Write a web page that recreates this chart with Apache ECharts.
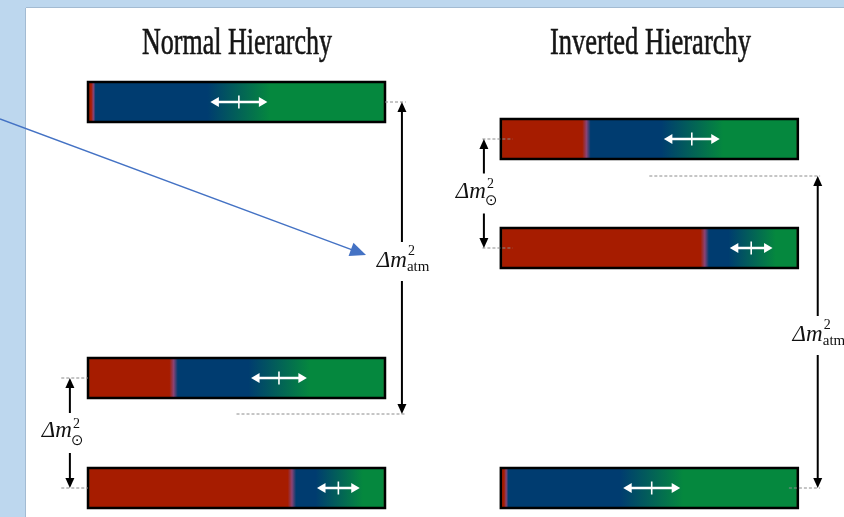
<!DOCTYPE html>
<html>
<head>
<meta charset="utf-8">
<script src="https://cdn.jsdelivr.net/npm/echarts@6/dist/echarts.min.js"></script>
<style>
  html, body { margin: 0; padding: 0; background: #bdd7ee; }
  #chart { width: 844px; height: 517px; }
</style>
</head>
<body>
<div id="chart"></div>
<script>
// ---- data -------------------------------------------------------------
const hierarchies = ['Normal Hierarchy', 'Inverted Hierarchy'];
const massStates = ['ν1', 'ν2', 'ν3'];
// flavour content of each mass state (fraction of the bar)
const electronShare = [0.685, 0.29, 0.022];     // red part
const muTauSplit = [0.843, 0.643, 0.508];        // μ / τ boundary
const splitUncertainty = [0.072, 0.094, 0.096];  // ± range of that boundary
// mass-squared levels (arbitrary units) of ν1, ν2, ν3
const normalLevels = [0.00, 1.10, 3.86];
const invertedLevels = [2.40, 3.49, 0.00];
// level the atmospheric splitting is measured from in each ordering
const atmosphericReference = [0.74, 3.12];

// ---- layout -----------------------------------------------------------
const W = 844, H = 517;
const X_MIN = -88 / 297, X_MAX = (W - 88) / 297;   // bar length = 1 unit
const Y_MIN = -0.29, Y_MAX = 4.88;
const INVERTED_OFFSET = 1.39;
const BAR_THICKNESS = 0.40;

const RED = '#a61c00', BLUE = '#003c70', GREEN = '#05883e';
const SERIF = '"Liberation Serif", "DejaVu Serif", serif';

const levels = [normalLevels, invertedLevels];

const barData = [];
levels.forEach((lv, h) => {
  massStates.forEach((name, s) => {
    barData.push([h * INVERTED_OFFSET, lv[s], h, s]);
  });
});

// splitting brackets: Δm²atm and Δm²☉ for both orderings
const brackets = [
  { x: 1.057, top: normalLevels[2], bottom: atmosphericReference[0], kind: 'atm',
    guides: [[1.0, 1.07], [0.50, 1.07]] },
  { x: -0.061, top: normalLevels[1], bottom: normalLevels[0], kind: 'sol',
    guides: [[-0.09, 0.0], [-0.09, 0.0]] },
  { x: INVERTED_OFFSET - 0.057, top: invertedLevels[1], bottom: invertedLevels[0], kind: 'sol',
    guides: [[INVERTED_OFFSET - 0.062, INVERTED_OFFSET + 0.04], [INVERTED_OFFSET - 0.062, INVERTED_OFFSET + 0.04]] },
  { x: INVERTED_OFFSET + 1.067, top: atmosphericReference[1], bottom: invertedLevels[2], kind: 'atm',
    guides: [[INVERTED_OFFSET + 0.50, INVERTED_OFFSET + 1.075], [INVERTED_OFFSET + 0.97, INVERTED_OFFSET + 1.075]] }
];
const bracketData = brackets.map((b, i) => [b.x, (b.top + b.bottom) / 2, i]);

// ---- helpers ----------------------------------------------------------
function arrowHead(tx, ty, dx, dy, len, half, fill) {
  const n = Math.hypot(dx, dy); dx /= n; dy /= n;
  const bx = tx - dx * len, by = ty - dy * len;
  return {
    type: 'polygon',
    shape: { points: [[tx, ty], [bx - dy * half, by + dx * half], [bx + dy * half, by - dx * half]] },
    style: { fill: fill }
  };
}

function text(x, y, str, font, align, fill) {
  return {
    type: 'text', x: x, y: y,
    style: { text: str, font: font, fill: fill || '#111',
             align: align, textAlign: align, verticalAlign: 'middle', textVerticalAlign: 'middle' }
  };
}

function barStops(s) {
  const e = electronShare[s], c = muTauSplit[s], w = splitUncertainty[s];
  const t = Math.min(0.014, e / 3);
  const stops = [];
  if (e > 0.1) {
    stops.push({ offset: 0, color: '#6e4a16' }, { offset: 0.012, color: RED });
  } else {
    stops.push({ offset: 0, color: RED });
  }
  stops.push(
    { offset: e - t, color: RED },
    { offset: e, color: '#8a4374' },
    { offset: e + t, color: BLUE },
    { offset: c - w * 1.1, color: BLUE },
    { offset: c + w * 1.1, color: GREEN },
    { offset: 0.988, color: GREEN },
    { offset: 1, color: '#4f6f2a' }
  );
  return stops;
}

// ---- render functions -------------------------------------------------
function renderBar(params, api) {
  const x0 = api.value(0), lvl = api.value(1), s = api.value(3);
  const p0 = api.coord([x0, lvl]);
  const p1 = api.coord([x0 + 1, lvl]);
  const hh = api.size([0, BAR_THICKNESS])[1] / 2;
  const len = p1[0] - p0[0];
  const cy = p0[1];
  const c = muTauSplit[s], w = splitUncertainty[s];
  const xa = p0[0] + (c - w) * len, xb = p0[0] + (c + w) * len, xc = p0[0] + c * len;
  return {
    type: 'group',
    children: [
      {
        type: 'rect',
        shape: { x: p0[0], y: cy - hh, width: len, height: hh * 2 },
        style: { fill: new echarts.graphic.LinearGradient(0, 0, 1, 0, barStops(s)),
                 stroke: '#000', lineWidth: 2.5 }
      },
      { type: 'line', shape: { x1: xa + 5, y1: cy, x2: xb - 5, y2: cy },
        style: { stroke: '#fff', lineWidth: 2.4 } },
      { type: 'line', shape: { x1: xc, y1: cy - 6.5, x2: xc, y2: cy + 6.5 },
        style: { stroke: '#fff', lineWidth: 1.6 } },
      arrowHead(xa, cy, -1, 0, 8.5, 5, '#fff'),
      arrowHead(xb, cy, 1, 0, 8.5, 5, '#fff')
    ]
  };
}

function renderBracket(params, api) {
  const b = brackets[api.value(2)];
  const pt = api.coord([b.x, b.top]);
  const pb = api.coord([b.x, b.bottom]);
  const x = pt[0];
  const mid = (pt[1] + pb[1]) / 2;
  const children = [];
  // dashed guides
  [b.top, b.bottom].forEach((lv, k) => {
    const g0 = api.coord([b.guides[k][0], lv]);
    const g1 = api.coord([b.guides[k][1], lv]);
    children.push({ type: 'line', shape: { x1: g0[0], y1: g0[1], x2: g1[0], y2: g1[1] },
      style: { stroke: '#8c8c8c', lineWidth: 1, lineDash: [3, 2] } });
  });
  let cy, gapTop, gapBottom;
  if (b.kind === 'atm') {
    cy = mid + 3; gapTop = 19; gapBottom = 20;
    children.push(
      text(x + 5, cy, 'Δm', 'italic 23px ' + SERIF, 'right'),
      text(x + 6, cy - 10, '2', '14px ' + SERIF, 'left'),
      text(x + 5, cy + 6, 'atm', '15px ' + SERIF, 'left')
    );
  } else {
    cy = mid - 2; gapTop = 18; gapBottom = 22;
    children.push(
      text(x + 2, cy, 'Δm', 'italic 23px ' + SERIF, 'right'),
      text(x + 3, cy - 7, '2', '14px ' + SERIF, 'left'),
      text(x + 1, cy + 10, '⊙', '15px "DejaVu Sans", sans-serif', 'left')
    );
  }
  const ah = 10;
  children.push(
    { type: 'line', shape: { x1: x, y1: pt[1] + ah - 1, x2: x, y2: cy - gapTop },
      style: { stroke: '#000', lineWidth: 2 } },
    { type: 'line', shape: { x1: x, y1: cy + gapBottom, x2: x, y2: pb[1] - ah + 1 },
      style: { stroke: '#000', lineWidth: 2 } },
    arrowHead(x, pt[1], 0, -1, ah, 4.5, '#000'),
    arrowHead(x, pb[1], 0, 1, ah, 4.5, '#000')
  );
  return { type: 'group', children: children };
}

// ---- titles (condensed serif) ----------------------------------------
const measureCtx = document.createElement('canvas').getContext('2d');
const TITLE_FONT = '37px ' + SERIF;
function titleElement(str, cx, targetWidth) {
  measureCtx.font = TITLE_FONT;
  const wNat = measureCtx.measureText(str).width || targetWidth;
  return {
    type: 'text', x: cx, y: 44, scaleX: targetWidth / wNat, z: 10,
    style: { text: str, font: TITLE_FONT, fill: '#151515', stroke: '#151515', lineWidth: 0.6,
             align: 'center', textAlign: 'center', verticalAlign: 'middle', textVerticalAlign: 'middle' }
  };
}

// pointer arrow towards the atmospheric splitting
const pStart = [0, 119], pTip = [366, 255];
const pd = [pTip[0] - pStart[0], pTip[1] - pStart[1]];
const pn = Math.hypot(pd[0], pd[1]);
const pu = [pd[0] / pn, pd[1] / pn];
const pointerHead = arrowHead(pTip[0], pTip[1], pu[0], pu[1], 16, 7, '#4472c4');
pointerHead.z = 100;

const chart = echarts.init(document.getElementById('chart'), null, { renderer: 'canvas' });
chart.setOption({
  backgroundColor: '#bdd7ee',
  animation: false,
  grid: { left: 0, right: 0, top: 0, bottom: 0 },
  xAxis: { type: 'value', min: X_MIN, max: X_MAX, show: false },
  yAxis: { type: 'value', min: Y_MIN, max: Y_MAX, show: false },
  graphic: [
    { type: 'rect', z: -10, shape: { x: 26, y: 8, width: W - 26, height: H - 8 }, style: { fill: '#ffffff' } },
    { type: 'line', z: -9, shape: { x1: 26, y1: 7.5, x2: W, y2: 7.5 }, style: { stroke: '#a3bbd2', lineWidth: 1 } },
    { type: 'line', z: -9, shape: { x1: 25.5, y1: 8, x2: 25.5, y2: H }, style: { stroke: '#a3bbd2', lineWidth: 1 } },
    titleElement(hierarchies[0], 237, 190),
    titleElement(hierarchies[1], 650.5, 201),
    { type: 'line', z: 100,
      shape: { x1: pStart[0], y1: pStart[1], x2: pTip[0] - pu[0] * 14, y2: pTip[1] - pu[1] * 14 },
      style: { stroke: '#4472c4', lineWidth: 1.5 } },
    pointerHead
  ],
  series: [
    {
      type: 'custom', name: 'mass states', clip: false,
      encode: { x: 0, y: 1 },
      renderItem: renderBar,
      data: barData
    },
    {
      type: 'custom', name: 'splittings', clip: false,
      encode: { x: 0, y: 1 },
      renderItem: renderBracket,
      data: bracketData
    }
  ]
});
</script>
</body>
</html>
